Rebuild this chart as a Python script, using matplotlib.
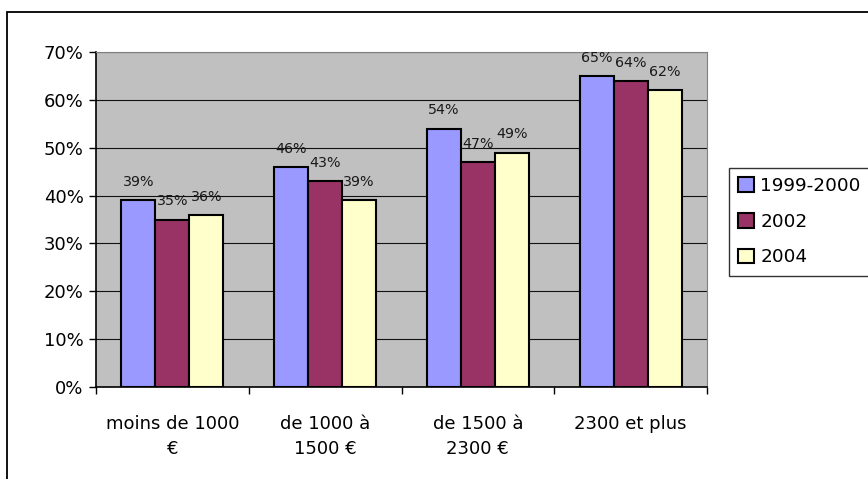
import numpy as np
from matplotlib import pyplot as plt
from matplotlib.patches import Rectangle
from matplotlib.ticker import FuncFormatter

categories = ['moins de 1000\n€', 'de 1000 à\n1500 €', 'de 1500 à\n2300 €', '2300 et plus']
series_names = ['1999-2000', '2002', '2004']
values_1999 = [39, 46, 54, 65]
values_2002 = [35, 43, 47, 64]
values_2004 = [36, 39, 49, 62]
colors = ['#9999FF', '#993366', '#FFFFCC']

plt.rcParams['font.family'] = ['DejaVu Sans']

fig = plt.figure(figsize=(8.68, 4.79), dpi=100)
W, H = 868, 479
ax = fig.add_axes([96 / W, 1 - 387 / H, (707 - 96) / W, (387 - 52) / H])

# outer chart border (only left and top edges visible)
fig.patches.append(Rectangle((7 / W, -0.2), 1.2, 1.2 - 12 / H, transform=fig.transFigure,
                             fill=False, edgecolor='black', linewidth=1.3))

ax.set_facecolor('#C0C0C0')
x = np.arange(len(categories))
width = 34 / 152.75
series = [values_1999, values_2002, values_2004]
for i, (name, vals) in enumerate(zip(series_names, series)):
    bars = ax.bar(x + (i - 1) * width, vals, width, color=colors[i], edgecolor='black',
                  linewidth=1.5, label=name, zorder=3)
    ax.bar_label(bars, labels=[f'{v}%' for v in vals], padding=8, fontsize=10.3,
                 color='#1a1a1a', zorder=4)

ax.set_xlim(-0.5, len(categories) - 0.5)
ax.set_ylim(0, 70)
ax.set_yticks(range(0, 71, 10))
ax.yaxis.set_major_formatter(FuncFormatter(lambda v, p: f'{int(v)}%'))
ax.grid(axis='y', color='#111111', linewidth=0.8, zorder=1)
ax.set_axisbelow(True)

ax.set_xticks(x)
ax.set_xticklabels(categories, fontsize=13, linespacing=1.5)
ax.set_xticks(np.arange(-0.5, len(categories), 1), minor=True)
ax.tick_params(axis='x', which='major', length=0, pad=20)
ax.tick_params(axis='x', which='minor', length=5, width=1, color='black')
ax.tick_params(axis='y', length=5, width=1, labelsize=13, pad=4)

for side in ['top', 'right']:
    ax.spines[side].set_color('#808080')
for side in ['left', 'bottom']:
    ax.spines[side].set_color('black')
    ax.spines[side].set_linewidth(1.2)

leg = ax.legend(loc='upper left', bbox_to_anchor=(729 / W, 1 - 168 / H),
                bbox_transform=fig.transFigure, fontsize=13.3, frameon=True,
                fancybox=False, edgecolor='black', handlelength=0.85, handleheight=0.85,
                handletextpad=0.35, labelspacing=0.95, borderpad=0.5, borderaxespad=0)
leg.get_frame().set_linewidth(1.0)

fig.savefig('out.png', dpi=100)
